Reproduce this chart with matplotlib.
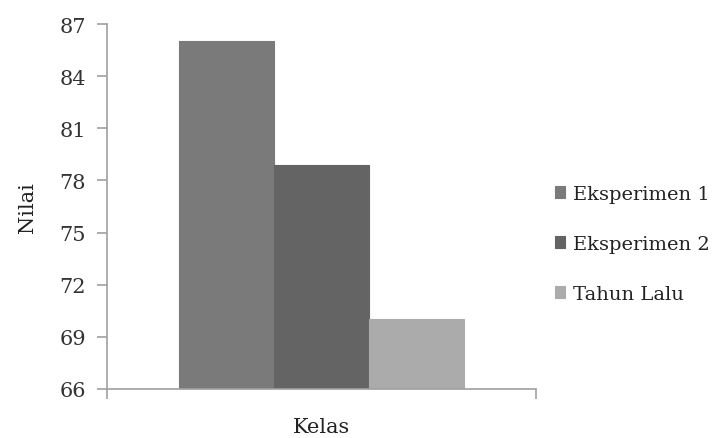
import matplotlib
matplotlib.use("Agg")
import matplotlib.pyplot as plt

series = ["Eksperimen 1", "Eksperimen 2", "Tahun Lalu"]
values = [86.0, 78.9, 70.0]
colors = ["#7a7a7a", "#646464", "#ababab"]
category = "Kelas"
yticks = [66, 69, 72, 75, 78, 81, 84, 87]

plt.rcParams['font.family'] = ['DejaVu Serif']

fig = plt.figure(figsize=(7.21, 4.39), dpi=100)
ax = fig.add_axes([107/721, 1-390/439, (536-107)/721, (390-25)/439])

w = 95/429
offsets = [-w, 0, w]
for s, v, c, o in zip(series, values, colors, offsets):
    ax.bar(o, v - 66, bottom=66, width=w, color=c, edgecolor=c, linewidth=0.8, label=s)

ax.set_xlim(-0.5, 0.5)
ax.set_ylim(66, 87)
ax.set_yticks(yticks)
ax.set_xticks([-0.5, 0.5])
ax.set_xticklabels([])
for sp in ["top", "right"]:
    ax.spines[sp].set_visible(False)
for sp in ["left", "bottom"]:
    ax.spines[sp].set_color("#a0a0a0")
    ax.spines[sp].set_linewidth(1.2)
ax.tick_params(axis="both", color="#a0a0a0", length=7, width=1.2, direction="out")
ax.tick_params(axis="y", labelsize=15, labelcolor="#333333", pad=8)
ax.set_ylabel("Nilai", fontsize=15, labelpad=16, color="#222222")
ax.set_xlabel(category, fontsize=15, labelpad=10, color="#222222")

leg = fig.legend(loc="center left", bbox_to_anchor=(537/721, 1-245/439), frameon=False,
                 fontsize=14, handlelength=0.55, handleheight=0.55, handletextpad=0.4,
                 labelspacing=1.65)
for t in leg.get_texts():
    t.set_color("#222222")

fig.savefig("out.png", dpi=100)
